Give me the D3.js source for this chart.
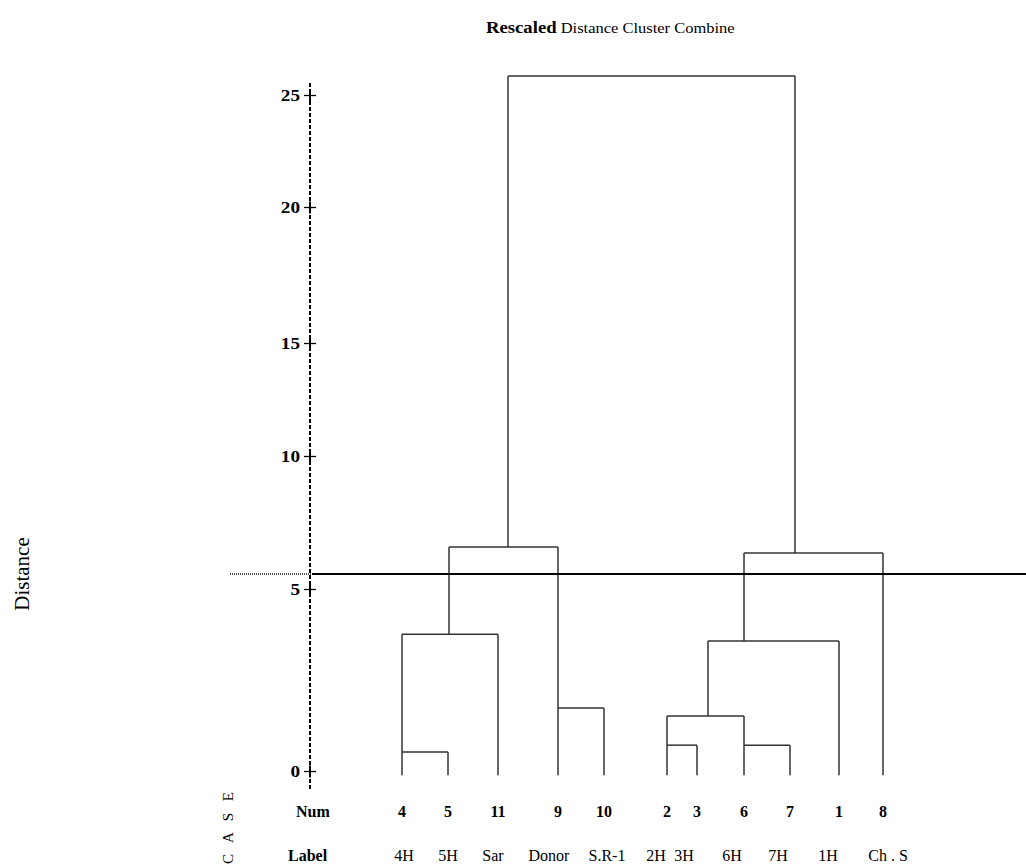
<!DOCTYPE html>
<html>
<head>
<meta charset="utf-8">
<script src="https://cdn.jsdelivr.net/npm/d3@7"></script>
<style>
  html, body { margin: 0; padding: 0; background: #fff; }
  svg { display: block; }
  text { font-family: "Liberation Serif", "Times New Roman", serif; fill: #000; }
</style>
</head>
<body>
<svg id="chart" width="1026" height="864"></svg>
<script>
// ---------- data ----------
const leafNums   = [4, 5, 11, 9, 10, 2, 3, 6, 7, 1, 8];
const leafLabels = ["4H", "5H", "Sar", "Donor", "S.R-1", "2H", "3H", "6H", "7H", "1H", "Ch . S"];
// column of each case along the dendrogram (text-column units)
const leafColumns  = [0, 4.6, 9.6, 15.6, 20.2, 26.5, 29.5, 34.2, 38.8, 43.7, 48.1];
// column where each case label is centred in the label row
const labelColumns = [0.2, 4.6, 9.1, 14.7, 20.5, 25.4, 28.2, 33.0, 37.6, 42.6, 48.6];
const yTicks = [0, 5, 10, 15, 20, 25];
// merges: children are leaf indexes or merge ids; height = rescaled distance
const mergeIds      = ["A", "B", "C", "D", "E", "F", "G", "H", "I", "J"];
const mergeLeft     = [0,   "A", 3,   "B", 5,   7,   "E", "G", "H", "D"];
const mergeRight    = [1,   2,   4,   "C", 6,   8,   "F", 9,   10,  "I"];
const mergeHeights  = [0.52, 3.76, 1.73, 6.58, 0.71, 0.71, 1.51, 3.57, 6.35, 25.85];
// column where the stem of each merged cluster rises
const mergeStemColumn = [0, 4.7, 15.6, 10.6, 26.5, 34.2, 30.6, 34.2, 39.3, null];
const leafBase = -0.12;
const cutHeight = 5.56;

// ---------- scales ----------
const svg = d3.select("#chart");
const x = d3.scaleLinear().domain([0, 48.1]).range([402, 883]);
const y = d3.scaleLinear().domain(yTicks).range([771, 589, 456, 343, 207, 95]);

const serif = '"Liberation Serif", "Times New Roman", serif';

// ---------- tree lookup ----------
const nodeInfo = {};
leafNums.forEach((n, i) => { nodeInfo[i] = { col: leafColumns[i], h: leafBase }; });
mergeIds.forEach((id, i) => { nodeInfo[id] = { col: mergeStemColumn[i], h: mergeHeights[i] }; });

const lineColor = "#333";
const g = svg.append("g");
mergeIds.forEach((id, i) => {
  const h = mergeHeights[i];
  const L = nodeInfo[mergeLeft[i]], R = nodeInfo[mergeRight[i]];
  g.append("line")
    .attr("x1", x(L.col)).attr("x2", x(R.col))
    .attr("y1", y(h)).attr("y2", y(h))
    .attr("stroke", lineColor).attr("stroke-width", 1.5);
  [L, R].forEach(c => {
    g.append("line")
      .attr("x1", x(c.col)).attr("x2", x(c.col))
      .attr("y1", y(c.h)).attr("y2", y(h))
      .attr("stroke", lineColor).attr("stroke-width", 1.5);
  });
});

// ---------- axis ----------
const axisX = 310;
svg.append("line")
  .attr("x1", axisX).attr("x2", axisX)
  .attr("y1", 83).attr("y2", 790)
  .attr("stroke", "#000").attr("stroke-width", 2)
  .attr("stroke-dasharray", "4,2");

const axisG = svg.append("g")
  .attr("transform", `translate(${axisX},0)`)
  .call(d3.axisLeft(y).tickValues(yTicks).tickSizeInner(6).tickSizeOuter(0).tickPadding(10));
axisG.select(".domain").remove();
axisG.selectAll(".tick line")
  .attr("x1", -6).attr("x2", 6)
  .attr("stroke", "#000").attr("stroke-width", 1.3);
axisG.selectAll(".tick").append("line")
  .attr("x1", 0).attr("x2", 0).attr("y1", -6).attr("y2", 6)
  .attr("stroke", "#000").attr("stroke-width", 2);
axisG.selectAll(".tick text")
  .attr("font-family", serif)
  .attr("font-size", 16)
  .attr("font-weight", "bold")
  .attr("fill", "#000")
  .attr("x", -10 / 1.2)
  .attr("transform", "scale(1.2,1)");

// ---------- cut line ----------
svg.append("line")
  .attr("x1", 230).attr("x2", 325)
  .attr("y1", y(cutHeight)).attr("y2", y(cutHeight))
  .attr("stroke", "#555").attr("stroke-width", 2)
  .attr("stroke-dasharray", "1,1");
svg.append("line")
  .attr("x1", 312).attr("x2", 1026)
  .attr("y1", y(cutHeight)).attr("y2", y(cutHeight))
  .attr("stroke", "#000").attr("stroke-width", 2);

// ---------- title ----------
const title = svg.append("text")
  .attr("transform", "translate(486,33) scale(1.1,1)");
title.append("tspan").attr("font-weight", "bold").attr("font-size", 17).text("Rescaled");
title.append("tspan").attr("font-size", 15).text(" Distance Cluster Combine");

// ---------- y label ----------
svg.append("text")
  .attr("transform", "translate(29,574) rotate(-90)")
  .attr("text-anchor", "middle")
  .attr("font-size", 21)
  .text("Distance");

// ---------- case rows ----------
svg.append("text")
  .attr("transform", "translate(233,826) rotate(-90)")
  .attr("text-anchor", "middle")
  .attr("font-size", 15)
  .attr("letter-spacing", 4)
  .text("C A S E");

svg.append("text").attr("x", 296).attr("y", 817)
  .attr("font-size", 16).attr("font-weight", "bold").text("Num");
svg.append("text").attr("x", 288).attr("y", 861)
  .attr("font-size", 16).attr("font-weight", "bold").text("Label");

svg.append("g").selectAll("text").data(leafNums).join("text")
  .attr("x", (d, i) => x(leafColumns[i]))
  .attr("y", 817)
  .attr("text-anchor", "middle")
  .attr("font-size", 16).attr("font-weight", "bold")
  .text(d => d);

svg.append("g").selectAll("text").data(leafLabels).join("text")
  .attr("x", (d, i) => x(labelColumns[i]))
  .attr("y", 861)
  .attr("text-anchor", "middle")
  .attr("font-size", 16)
  .text(d => d);
</script>
</body>
</html>
